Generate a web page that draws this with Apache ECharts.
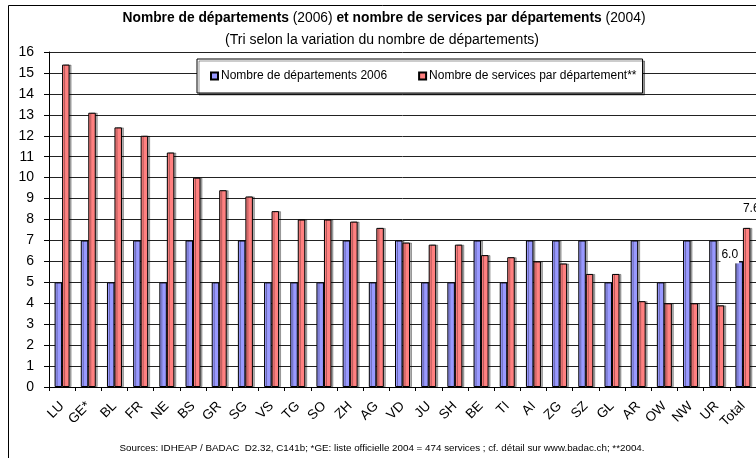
<!DOCTYPE html>
<html>
<head>
<meta charset="utf-8">
<script src="https://cdn.jsdelivr.net/npm/echarts@6/dist/echarts.min.js"></script>
<style>
  html, body { margin: 0; padding: 0; background: #fff; overflow: hidden; }
  #chart { width: 756px; height: 458px; }
</style>
</head>
<body>
<div id="chart"></div>
<script>
// cantons, sorted by variation of the number of departments
var cantons = ["LU", "GE*", "BL", "FR", "NE", "BS", "GR", "SG", "VS", "TG", "SO", "ZH", "AG",
  "VD", "JU", "SH", "BE", "TI", "AI", "ZG", "SZ", "GL", "AR", "OW", "NW", "UR", "Total"];
// Nombre de départements 2006
var departements = [5, 7, 5, 7, 5, 7, 5, 7, 5, 5, 5, 7, 5,
  7, 5, 5, 7, 5, 7, 7, 7, 5, 7, 5, 7, 7, 6.0];
// Nombre de services par département (2004)
var services = [15.4, 13.1, 12.4, 12.0, 11.2, 10.0, 9.4, 9.1, 8.4, 8.0, 8.0, 7.9, 7.6,
  6.9, 6.8, 6.8, 6.3, 6.2, 6.0, 5.9, 5.4, 5.4, 4.1, 4.0, 4.0, 3.9, 7.6];
var yTicks = [0, 16, 1]; // min, max, step

var BLUE = "#9999ff";
var RED = "#ff8080";

var chart = echarts.init(document.getElementById("chart"));

// only the Total bars get a value label
function withTotalLabel(values, offset, bg) {
  return values.map(function(v, i) {
    if (i !== values.length - 1) return v;
    return {
      value: v,
      label: {
        show: true,
        position: offset,
        formatter: function(p) { return p.value.toFixed(1); },
        color: "#000",
        fontFamily: "Arial",
        fontSize: 12,
        backgroundColor: bg,
        padding: [3, 1, 3, 1]
      }
    };
  });
}

var barStyle = function(color) {
  return {
    color: color,
    borderColor: "#000",
    borderWidth: 1,
    shadowColor: "rgba(0,0,0,0.3)",
    shadowOffsetX: 2,
    shadowOffsetY: 0,
    shadowBlur: 0
  };
};

var option = {
  animation: false,
  backgroundColor: "#fff",
  textStyle: { fontFamily: "Arial" },
  title: [
    {
      text: "{b|Nombre de départements }{n|(2006) }{b|et nombre de services par départements }{n|(2004)}",
      left: 384,
      top: 11,
      textAlign: "center",
      padding: 0,
      textStyle: {
        rich: {
          b: { fontFamily: "Arial", fontSize: 13.8, fontWeight: "bold", color: "#000" },
          n: { fontFamily: "Arial", fontSize: 13.8, fontWeight: "normal", color: "#000" }
        }
      }
    },
    {
      text: "(Tri selon la variation du nombre de départements)",
      left: 382,
      top: 33,
      textAlign: "center",
      padding: 0,
      textStyle: { fontFamily: "Arial", fontSize: 14, fontWeight: "normal", color: "#000" }
    },
    {
      text: "Sources: IDHEAP / BADAC  D2.32, C141b; *GE: liste officielle 2004 = 474 services ; cf. détail sur www.badac.ch; **2004.",
      left: 382,
      top: 443,
      textAlign: "center",
      padding: 0,
      textStyle: { fontFamily: "Arial", fontSize: 9.8, fontWeight: "normal", color: "#000" }
    }
  ],
  graphic: [
    {
      type: "rect",
      z: -1,
      shape: { x: 8.5, y: 5.5, width: 800, height: 500 },
      style: { fill: null, stroke: "#000", lineWidth: 1 }
    }
  ],
  legend: {
    left: 197,
    top: 59,
    orient: "horizontal",
    icon: "rect",
    itemWidth: 7,
    itemHeight: 7,
    itemGap: 31,
    padding: [11, 6, 11, 13],
    backgroundColor: "#fff",
    borderColor: "#000",
    borderWidth: 1,
    shadowColor: "rgba(0,0,0,0.4)",
    shadowOffsetX: 2,
    shadowOffsetY: 2,
    shadowBlur: 0,
    textStyle: { fontFamily: "Arial", fontSize: 12, color: "#000", padding: [0, 0, 0, -2] },
    data: ["Nombre de départements 2006", "Nombre de services par département**"]
  },
  grid: {
    left: 49,
    top: 52,
    width: 711,
    height: 335,
    containLabel: false
  },
  xAxis: {
    type: "category",
    data: cantons,
    axisLine: { lineStyle: { color: "#000", width: 1 } },
    axisTick: { show: true, length: 4, lineStyle: { color: "#000" } },
    axisLabel: {
      rotate: 45,
      interval: 0,
      margin: 17,
      fontFamily: "Arial",
      fontSize: 13.5,
      color: "#000"
    }
  },
  yAxis: {
    type: "value",
    min: yTicks[0],
    max: yTicks[1],
    interval: yTicks[2],
    axisLine: { show: true, lineStyle: { color: "#000", width: 1 } },
    axisTick: { show: true, length: 5, lineStyle: { color: "#000" } },
    axisLabel: {
      margin: 15,
      fontFamily: "Arial",
      fontSize: 14,
      color: "#000"
    },
    splitLine: { show: true, lineStyle: { color: "#222", width: 1, type: "solid" } }
  },
  series: [
    {
      name: "Nombre de départements 2006",
      type: "bar",
      barWidth: 7.5,
      barGap: "0%",
      data: withTotalLabel(departements, [-15, -16], "#fff"),
      itemStyle: barStyle(BLUE)
    },
    {
      name: "Nombre de services par département**",
      type: "bar",
      barWidth: 7.5,
      barGap: "0%",
      data: withTotalLabel(services, [-1, -28], "transparent"),
      itemStyle: barStyle(RED)
    }
  ]
};

chart.setOption(option);
</script>
</body>
</html>
